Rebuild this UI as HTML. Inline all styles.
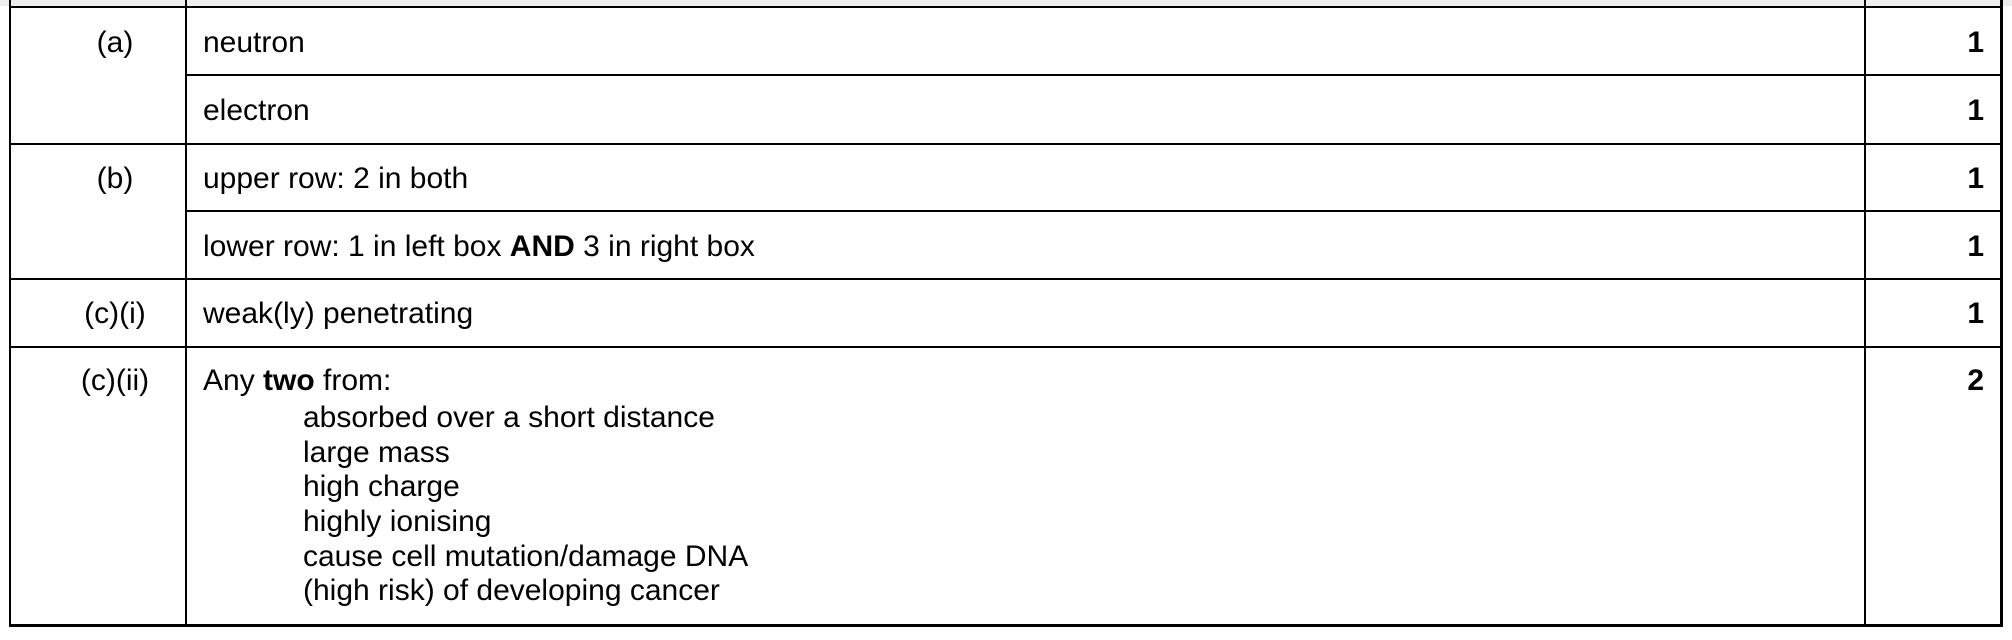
<!DOCTYPE html>
<html><head><meta charset="utf-8"><style>
html,body{margin:0;padding:0;}
body{width:2012px;height:638px;position:relative;background:#fff;overflow:hidden;font-family:"Liberation Sans",Arial,sans-serif;font-size:30px;color:#000;}
.l{position:absolute;background:#000;}
.t{position:absolute;white-space:nowrap;line-height:30px;}
.c{position:absolute;width:200px;text-align:center;white-space:nowrap;line-height:30px;}
.m{position:absolute;right:28px;font-weight:bold;line-height:30px;}
#w{position:absolute;left:0;top:2px;width:2012px;height:638px;}
</style></head><body>
<div style="position:absolute;left:0;top:0;width:2012px;height:6px;background:#eee"></div>
<div class="l" style="left:9px;top:0;width:2px;height:627px"></div>
<div class="l" style="left:185px;top:0;width:2px;height:627px"></div>
<div class="l" style="left:1864px;top:0;width:2px;height:627px"></div>
<div class="l" style="left:2000px;top:0;width:3px;height:627px"></div>
<div class="l" style="left:9px;top:6px;width:1994px;height:2px"></div>
<div class="l" style="left:185px;top:74px;width:1818px;height:2px"></div>
<div class="l" style="left:9px;top:143px;width:1994px;height:2px"></div>
<div class="l" style="left:185px;top:210px;width:1818px;height:2px"></div>
<div class="l" style="left:9px;top:278px;width:1994px;height:2px"></div>
<div class="l" style="left:9px;top:346px;width:1994px;height:2px"></div>
<div class="l" style="left:9px;top:624px;width:1994px;height:3px"></div>
<div id="w">
<div class="c" style="left:15px;top:26px">(a)</div>
<div class="c" style="left:15px;top:162px">(b)</div>
<div class="c" style="left:15px;top:297px">(c)(i)</div>
<div class="c" style="left:15px;top:364px">(c)(ii)</div>
<div class="t" style="left:203px;top:26px">neutron</div>
<div class="t" style="left:203px;top:94px">electron</div>
<div class="t" style="left:203px;top:162px">upper row: 2 in both</div>
<div class="t" style="left:203px;top:230px">lower row: 1 in left box <b>AND</b> 3 in right box</div>
<div class="t" style="left:203px;top:297px">weak(ly) penetrating</div>
<div class="t" style="left:203px;top:364px">Any <b>two</b> from:</div>
<div class="t" style="left:303px;top:401px">absorbed over a short distance</div>
<div class="t" style="left:303px;top:436px">large mass</div>
<div class="t" style="left:303px;top:470px">high charge</div>
<div class="t" style="left:303px;top:505px">highly ionising</div>
<div class="t" style="left:303px;top:540px">cause cell mutation/damage DNA</div>
<div class="t" style="left:303px;top:574px">(high risk) of developing cancer</div>
<div class="m" style="top:26px">1</div>
<div class="m" style="top:94px">1</div>
<div class="m" style="top:162px">1</div>
<div class="m" style="top:230px">1</div>
<div class="m" style="top:297px">1</div>
<div class="m" style="top:364px">2</div>
</div>
</body></html>
